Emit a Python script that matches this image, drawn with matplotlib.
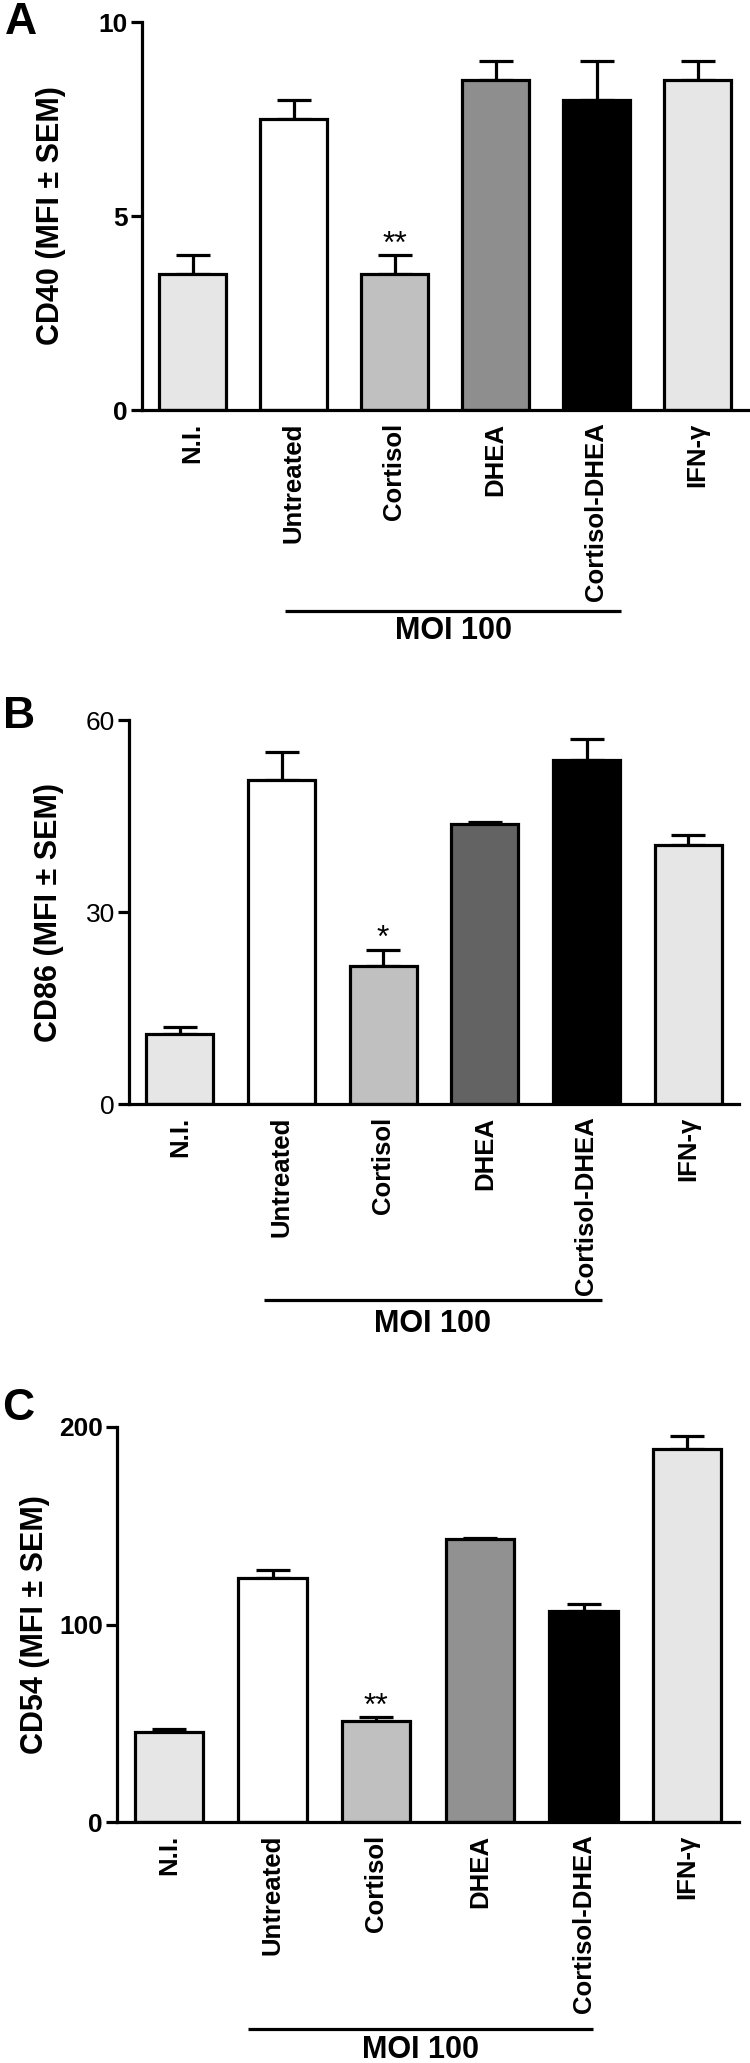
import matplotlib
matplotlib.use("Agg")
import matplotlib.pyplot as plt
import numpy as np
from matplotlib.transforms import blended_transform_factory

plt.rcParams['font.family'] = ['Liberation Sans', 'DejaVu Sans']

categories = ["N.I.", "Untreated", "Cortisol", "DHEA", "Cortisol-DHEA", "IFN-γ"]

cd40_values = [3.5, 7.5, 3.5, 8.5, 8.0, 8.5]
cd40_sem = [0.5, 0.5, 0.5, 0.5, 1.0, 0.5]

cd86_values = [11.0, 50.6, 21.5, 43.7, 53.7, 40.5]
cd86_sem = [1.0, 4.4, 2.5, 0.4, 3.4, 1.5]

cd54_values = [45.8, 123.4, 51.1, 143.4, 106.8, 188.7]
cd54_sem = [1.1, 4.1, 2.3, 0.6, 3.7, 6.7]

colors_A = ["#e6e6e6", "#ffffff", "#c0c0c0", "#8e8e8e", "#000000", "#e6e6e6"]
colors_B = ["#e6e6e6", "#ffffff", "#c0c0c0", "#636363", "#000000", "#e6e6e6"]
colors_C = ["#e6e6e6", "#ffffff", "#c0c0c0", "#919191", "#000000", "#e6e6e6"]

W, H = 750, 2063
fig = plt.figure(figsize=(W / 100, H / 100), dpi=100)


def rect(left, right, top, zero):
    return [left / W, 1 - zero / H, (right - left) / W, (zero - top) / H]


panels = [
    dict(rect=rect(142, 748, 22, 410), vals=cd40_values, err=cd40_sem, colors=colors_A,
         ylim=10, ticks=[0, 5, 10], ylabel="CD40 (MFI ± SEM)", tickweight="bold",
         star="**", star_y=4.25, letter="A", letter_xy=(21, 22), ylab_x=-0.125,
         moi=(0.92, 4.24), line_y=-0.518, text_y=-0.570),
    dict(rect=rect(129, 739, 720, 1104), vals=cd86_values, err=cd86_sem, colors=colors_B,
         ylim=60, ticks=[0, 30, 60], ylabel="CD86 (MFI ± SEM)", tickweight="normal",
         star="*", star_y=25.8, letter="B", letter_xy=(19, 716), ylab_x=-0.107,
         moi=(0.83, 4.15), line_y=-0.510, text_y=-0.573),
    dict(rect=rect(117, 739, 1427, 1822), vals=cd54_values, err=cd54_sem, colors=colors_C,
         ylim=200, ticks=[0, 100, 200], ylabel="CD54 (MFI ± SEM)", tickweight="bold",
         star="**", star_y=58.5, letter="C", letter_xy=(18, 1409), ylab_x=-0.108,
         moi=(0.76, 4.09), line_y=-0.524, text_y=-0.577),
]

lw = 2.3
x = np.arange(len(categories))
for p in panels:
    ax = fig.add_axes(p["rect"])
    ax.bar(x, p["vals"], width=0.66, color=p["colors"], edgecolor="black",
           linewidth=lw, zorder=2)
    ax.errorbar(x, p["vals"], yerr=[np.zeros(len(x)), p["err"]], fmt="none",
                ecolor="black", elinewidth=lw, capsize=12.5, capthick=lw, zorder=1)
    ax.set_xlim(-0.5, 5.5)
    ax.set_ylim(0, p["ylim"])
    ax.set_yticks(p["ticks"])
    ax.set_yticklabels([str(t) for t in p["ticks"]], fontsize=19,
                       fontweight=p["tickweight"])
    ax.set_xticks(x)
    ax.set_xticklabels(categories, rotation=90, fontsize=18.5, fontweight="bold",
                       va="top", ha="center")
    ax.tick_params(axis="x", length=0, pad=9)
    ax.tick_params(axis="y", length=8, width=lw, pad=2)
    for s in ["top", "right"]:
        ax.spines[s].set_visible(False)
    for s in ["left", "bottom"]:
        ax.spines[s].set_linewidth(lw)
    ax.set_ylabel(p["ylabel"], fontsize=22, fontweight="bold")
    ax.yaxis.set_label_coords(p["ylab_x"], 0.5)
    ax.text(2, p["star_y"], p["star"], ha="center", va="center", fontsize=23)
    tr = blended_transform_factory(ax.transData, ax.transAxes)
    x0, x1 = p["moi"]
    ax.plot([x0, x1], [p["line_y"], p["line_y"]], color="black", lw=lw,
            transform=tr, clip_on=False, solid_capstyle="butt")
    ax.text((x0 + x1) / 2, p["text_y"], "MOI 100", transform=tr, ha="center",
            va="center", fontsize=22, fontweight="bold")
    lx, ly = p["letter_xy"]
    fig.text(lx / W, 1 - ly / H, p["letter"], ha="center", va="center",
             fontsize=32, fontweight="bold")

fig.savefig("out.png", dpi=100)
